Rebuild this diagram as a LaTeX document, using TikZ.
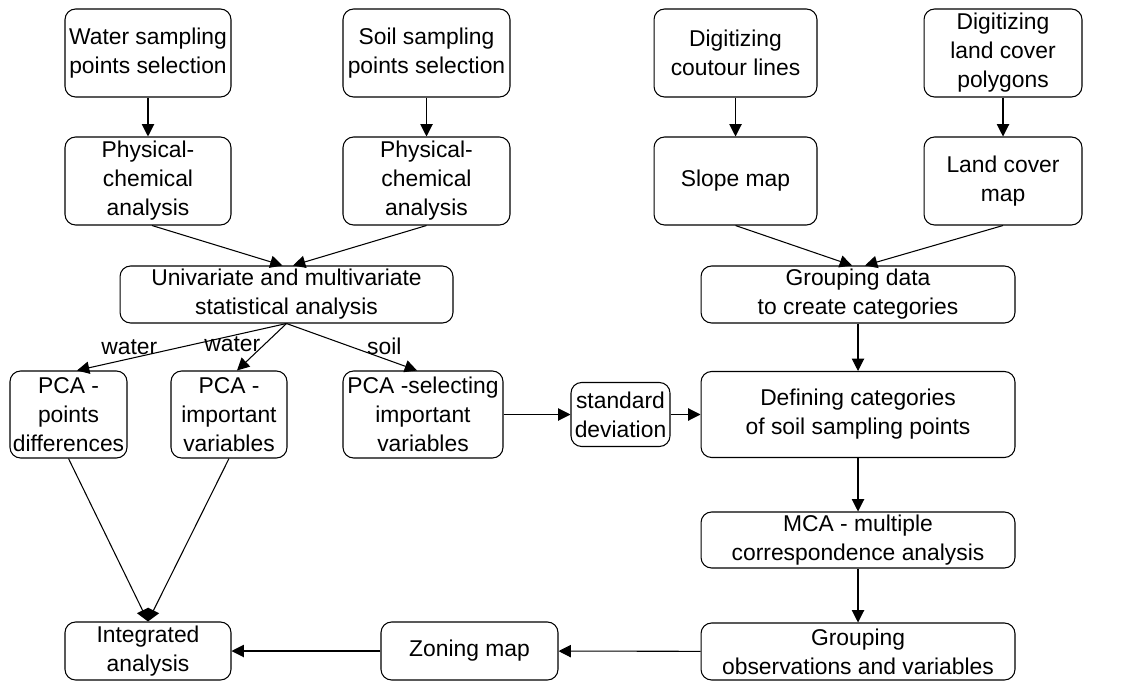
\documentclass[tikz,border=0pt]{standalone}
\usepackage{fontspec}
\setmainfont{Liberation Sans}
\usepackage{tikz}
\usetikzlibrary{arrows.meta,calc,positioning}

\begin{document}
\begin{tikzpicture}[x=0.02cm, y=-0.02cm, line width=0.6pt,
    every node/.style={font=\fontsize{13}{16.5}\selectfont}]
    \tikzset{Box/.style = {draw, rounded corners=6pt, align=center, inner sep=0pt},
      Flow/.style = {-{Triangle[length=7pt,width=7pt]}},
      Lab/.style = {inner sep=2pt}}
    \useasboundingbox (0,0) rectangle (1135,682);
    \node[Box, minimum width=3.32cm, minimum height=1.76cm] (water) at (148,53) {Water sampling\\points selection};
    \node[Box, minimum width=3.34cm, minimum height=1.76cm] (soil) at (426.5,53) {Soil sampling\\points selection};
    \node[Box, minimum width=3.26cm, minimum height=1.76cm] (cont) at (735.5,53) {Digitizing\\coutour lines};
    \node[Box, minimum width=3.16cm, minimum height=1.76cm] (poly) at (1003,53) {Digitizing\\land cover\\polygons};
    \node[Box, minimum width=3.32cm, minimum height=1.76cm] (physw) at (148,181) {Physical-\\chemical\\analysis};
    \node[Box, minimum width=3.34cm, minimum height=1.76cm] (physs) at (426.5,181) {Physical-\\chemical\\analysis};
    \node[Box, minimum width=3.26cm, minimum height=1.76cm] (slope) at (735.5,181) {Slope map};
    \node[Box, minimum width=3.16cm, minimum height=1.76cm] (cover) at (1003,181) {Land cover\\map};
    \node[Box, minimum width=6.66cm, minimum height=1.14cm] (stat) at (286.5,294.5) {Univariate and multivariate\\statistical analysis};
    \node[Box, minimum width=6.28cm, minimum height=1.14cm] (group) at (858,294.5) {Grouping data\\to create categories};
    \node[Box, minimum width=2.34cm, minimum height=1.74cm] (pcadiff) at (68.5,414.5) {PCA -\\points\\differences};
    \node[Box, minimum width=2.32cm, minimum height=1.74cm] (pcaimp) at (229,414.5) {PCA -\\important\\variables};
    \node[Box, minimum width=3.20cm, minimum height=1.74cm] (pcasel) at (423,414.5) {PCA -selecting\\important\\variables};
    \node[Box, minimum width=1.98cm, minimum height=1.28cm] (stdev) at (620.5,414.5) {standard\\deviation};
    \node[Box, minimum width=6.28cm, minimum height=1.72cm] (define) at (858,414.5) {Defining categories\\of soil sampling points};
    \node[Box, minimum width=6.28cm, minimum height=1.12cm] (mca) at (858,540) {MCA - multiple\\correspondence analysis};
    \node[Box, minimum width=6.28cm, minimum height=1.14cm] (obs) at (858,651.5) {Grouping\\observations and variables};
    \node[Box, minimum width=3.32cm, minimum height=1.16cm] (integ) at (148,651) {Integrated\\analysis};
    \node[Box, minimum width=3.54cm, minimum height=1.16cm] (zoning) at (469.5,651) {Zoning map};
    \draw[Flow] (water) -- (physw);
    \draw[Flow] (soil) -- (physs);
    \draw[Flow] (cont) -- (slope);
    \draw[Flow] (poly) -- (cover);
    \draw[Flow] ([xshift=0.08cm]physw.south) -- ([xshift=-0.08cm]stat.north);
    \draw[Flow] (physs.south) -- ([xshift=0.13cm]stat.north);
    \draw[Flow] (slope.south) -- ([xshift=-0.12cm]group.north);
    \draw[Flow] (cover.south) -- ([xshift=0.14cm]group.north);
    \draw[Flow] (group) -- (define);
    \draw[Flow] (stat.south) -- ([xshift=0.17cm]pcadiff.north) node[Lab, pos=0.75, above] {water};
    \draw[Flow] (stat.south) -- ([xshift=0.16cm]pcaimp.north) node[Lab, pos=0.45, left] {water};
    \draw[Flow] (stat.south) -- ([xshift=-0.12cm]pcasel.north) node[Lab, pos=0.75, above] {soil};
    \draw[Flow] (pcasel) -- (stdev);
    \draw[Flow] (stdev) -- (define);
    \draw[Flow] (define) -- (mca);
    \draw[Flow] (mca) -- (obs);
    \draw[Flow] (obs) -- (zoning);
    \draw[Flow] (zoning) -- (integ);
    \draw[Flow] (pcadiff.south) -- (integ.north);
    \draw[Flow] (pcaimp.south) -- (integ.north);
  \end{tikzpicture}
\end{document}
